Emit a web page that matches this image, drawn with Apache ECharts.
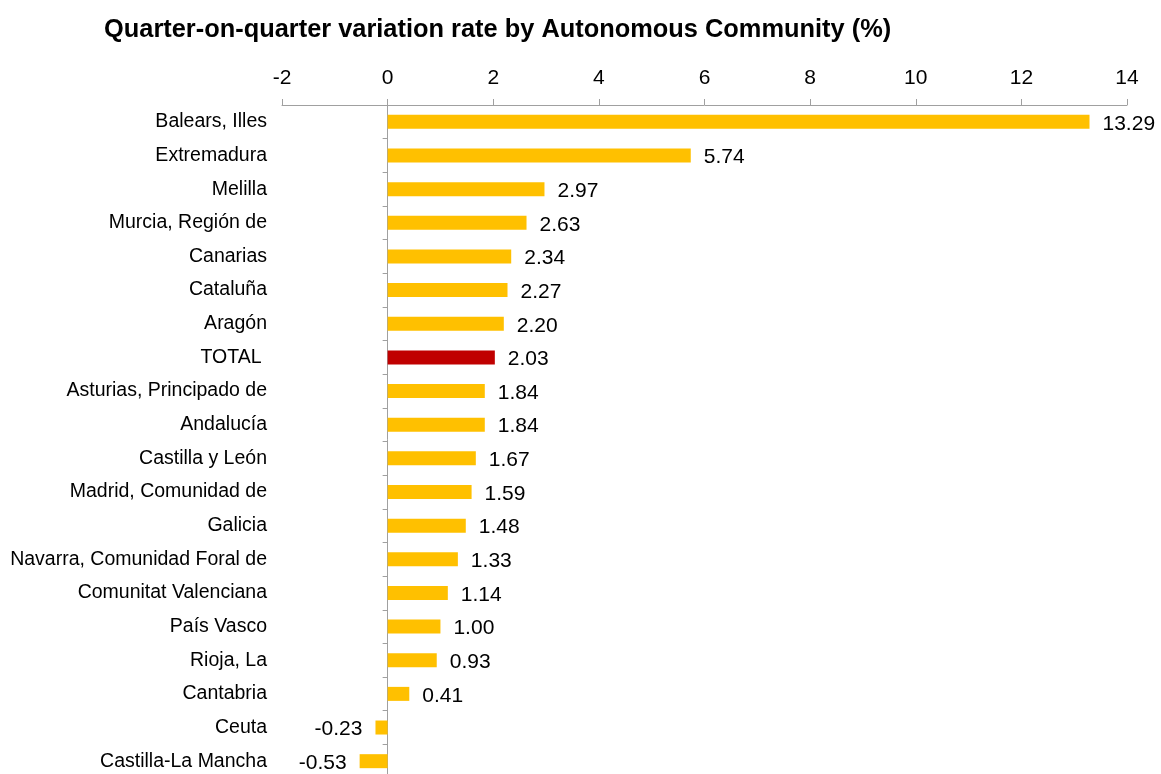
<!DOCTYPE html>
<html>
<head>
<meta charset="utf-8">
<script src="https://cdn.jsdelivr.net/npm/echarts@6/dist/echarts.min.js"></script>
<style>
  html, body { margin: 0; padding: 0; background: #fff; }
  #chart { width: 1161px; height: 774px; }
</style>
</head>
<body>
<div id="chart"></div>
<script>
  // regions, top to bottom
  var regions = [
    'Balears, Illes', 'Extremadura', 'Melilla', 'Murcia, Región de', 'Canarias',
    'Cataluña', 'Aragón', 'TOTAL ', 'Asturias, Principado de', 'Andalucía',
    'Castilla y León', 'Madrid, Comunidad de', 'Galicia', 'Navarra, Comunidad Foral de',
    'Comunitat Valenciana', 'País Vasco', 'Rioja, La', 'Cantabria', 'Ceuta', 'Castilla-La Mancha'
  ];
  var rates = [13.29, 5.74, 2.97, 2.63, 2.34, 2.27, 2.20, 2.03, 1.84, 1.84,
               1.67, 1.59, 1.48, 1.33, 1.14, 1.00, 0.93, 0.41, -0.23, -0.53];
  var totalName = 'TOTAL ';

  var myChart = echarts.init(document.getElementById('chart'));

  var font = 'Liberation Sans, Arial, sans-serif';

  var barData = rates.map(function (v, i) {
    return {
      value: v,
      itemStyle: { color: regions[i] === totalName ? '#C00000' : '#FFC000' },
      label: { position: v < 0 ? 'left' : 'right' }
    };
  });

  var option = {
    animation: false,
    title: {
      text: 'Quarter-on-quarter variation rate by Autonomous Community (%)',
      left: 99,
      top: 12,
      textStyle: { fontFamily: font, fontSize: 25.4, fontWeight: 'bold', color: '#000' }
    },
    grid: { left: 282, right: 34, top: 105, height: 673, containLabel: false, outerBoundsMode: 'none' },
    xAxis: {
      type: 'value',
      position: 'top',
      min: -2,
      max: 14,
      interval: 2,
      splitLine: { show: false },
      axisLine: { show: true, lineStyle: { color: '#a0a0a0', width: 1 } },
      axisTick: { show: true, length: 6, lineStyle: { color: '#a0a0a0' } },
      axisLabel: { margin: 16, fontFamily: font, fontSize: 21, color: '#000' }
    },
    yAxis: {
      type: 'category',
      inverse: true,
      data: regions,
      axisLine: { show: true, onZero: true, lineStyle: { color: '#a0a0a0', width: 1 } },
      axisTick: { show: true, length: 5, lineStyle: { color: '#a0a0a0' } },
      axisLabel: { margin: 15, fontFamily: font, fontSize: 19.5, color: '#000' }
    },
    series: [
      {
        type: 'bar',
        data: barData,
        barWidth: 14,
        label: {
          show: true,
          distance: 13,
          offset: [0, 2],
          fontFamily: font,
          fontSize: 21,
          color: '#000',
          formatter: function (p) { return p.value.toFixed(2); }
        }
      }
    ]
  };

  myChart.setOption(option);
</script>
</body>
</html>
